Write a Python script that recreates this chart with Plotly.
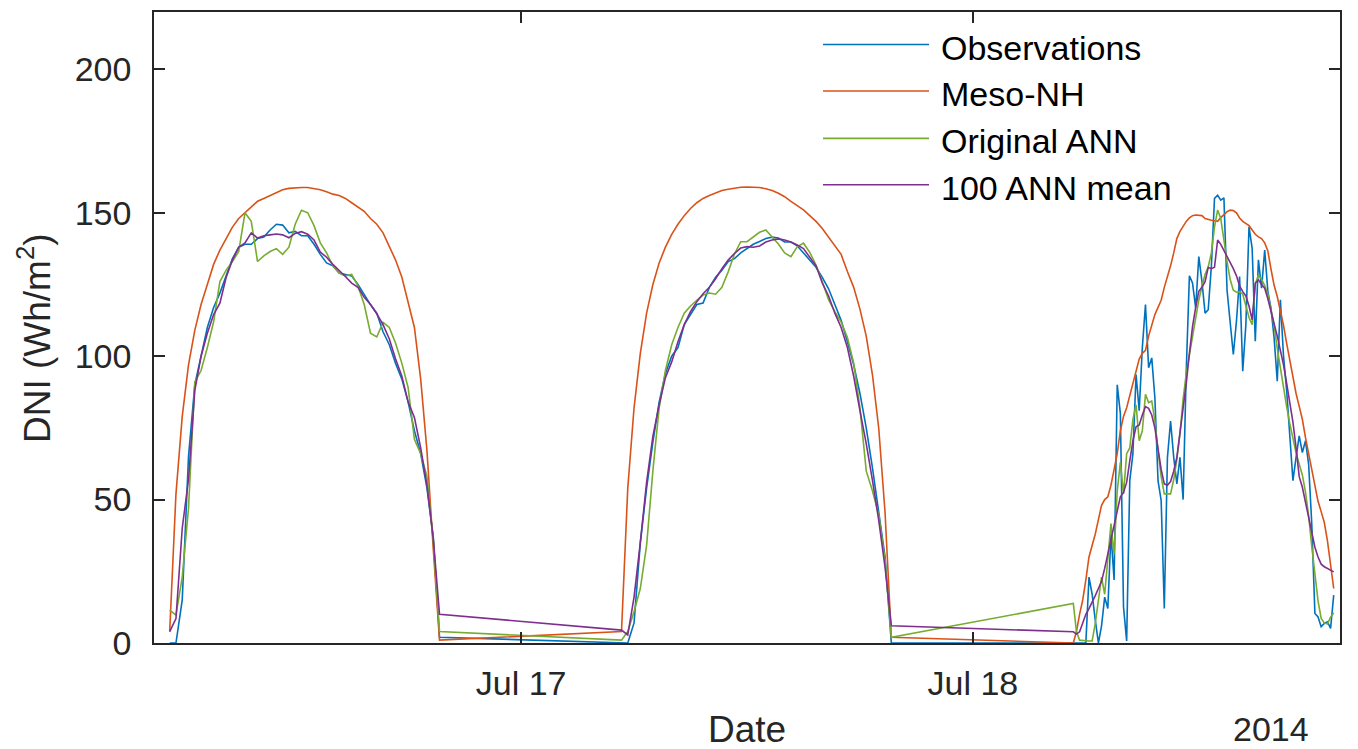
import pandas as pd
import plotly.graph_objects as go

# ---------------- data (DNI, Wh/m2) ----------------
day_starts = ["2014-07-16 05:20", "2014-07-17 05:20", "2014-07-18 05:20"]
day_steps = ["20min", "20min", "10min"]

obs_day1 = [0, 0, 15, 65, 90, 100, 110, 117, 122, 128, 134, 138, 139, 139, 141, 141.5, 144, 146, 145.7, 143,
            143.5, 142, 142, 139, 135.5, 132.5, 131.5, 129, 128.5, 128, 125, 121.5, 118, 115, 108.5, 104, 97.5,
            92, 84, 74, 66, 54, 37, 2]
obs_day2 = [0, 0, 7, 35, 54, 70, 84, 94, 100, 103, 111, 114.5, 118, 118.5, 124, 127.5, 130, 133, 134, 136,
            137.5, 139, 140, 141, 141.5, 141.2, 139.8, 139.8, 138.5, 136, 133.5, 131, 127.5, 123.5, 118, 112.5,
            105, 97, 87, 75, 61, 46, 30, 0]
obs_day3 = [0, 0, 0, 0, 0, 23, 17, 8, 0, 6, 16, 12, 38, 22, 90, 80, 12.6, 0.7, 56.6, 66, 93.6, 81, 103, 118,
            96, 99.4, 85.5, 56.6, 49.7, 12, 64.7, 77.4, 64.7, 55.5, 64.7, 50, 95, 128, 125.5, 116.8, 134.7, 126,
            115, 116.2, 131.3, 155, 156.1, 154.4, 155.2, 123, 112, 100.6, 112.2, 127.8, 94.8, 111, 145.1, 137.6,
            105.2, 133.6, 123.7, 137, 122.6, 116.8, 106.4, 91.3, 119.7, 100, 88, 72, 56.6, 64.7, 72.2, 66.4,
            70.5, 62.4, 41.6, 10.3, 9.1, 5.7, 6.8, 7.4, 5.1, 16.7]

meso_day1 = [4, 52, 79, 97, 109, 118, 125, 132, 137, 141, 145, 148, 150, 152, 154, 155, 156, 157.2, 158, 158.5,
             158.7, 158.8, 158.8, 158.5, 158, 157.3, 156.5, 156, 155, 153.5, 152, 150.5, 148, 146, 143, 138.5,
             133.5, 127.5, 119, 110, 92, 67, 33, 1]
meso_day2 = [4, 54, 82, 101, 115, 125, 132.5, 138, 142.5, 146, 149, 151.5, 153.5, 155, 156, 157, 157.8, 158.2,
             158.6, 158.9, 159, 159, 158.8, 158.4, 157.8, 156.8, 155.6, 154, 152.5, 151, 149, 147, 144.5, 141.5,
             138.5, 135.5, 129.5, 124, 116.4, 107, 93.4, 74.7, 45.5, 2]
meso_day3 = [0, 4, 10, 15, 22, 30, 34, 38, 43, 48, 50, 51, 55, 60, 66, 74, 79, 82, 86, 90, 95, 99, 101, 102,
             107, 111, 114.5, 117, 119.5, 124, 127.5, 131.5, 136, 141, 143.5, 145.5, 147, 148.2, 149, 149.2,
             149.2, 149, 148, 147.6, 147.4, 147.2, 147, 148.3, 149.5, 150.4, 150.9, 150.8, 150, 148.2, 147,
             146.2, 145.5, 144, 142.5, 141.6, 141, 139.5, 136.7, 130.4, 124.7, 120.8, 115.8, 110.7, 104.5, 98.5,
             92.8, 87, 82.5, 78, 71.6, 66, 60.7, 54.9, 49.4, 45.8, 42, 35.6, 27, 19]

ann_day1 = [11.5, 9.7, 23, 47, 91, 95, 103, 112, 126, 130, 133, 136.5, 150, 147, 133, 135, 136.5, 137.5, 135.5,
            138, 146, 150.9, 150, 145.5, 139.5, 136, 131.5, 129, 128, 128.5, 124.5, 118, 108, 106.7, 111.8, 110,
            104.5, 97.5, 89, 71, 66, 58, 35.5, 4]
ann_day2 = [1, 4, 11, 19, 34, 60, 82, 95, 104, 110, 115, 117.5, 119.5, 121.3, 122, 121.6, 124, 129.4, 135.6,
            139.9, 139.9, 141.6, 143.2, 144, 141.4, 139.1, 136, 134.7, 138.1, 139.4, 136.2, 131.8, 125.9, 119.7,
            115.5, 111.9, 106.5, 97.6, 82, 60, 53, 44.6, 28.9, 2]
ann_day3 = [13.8, 4, 1, 0.8, 0.8, 0.7, 0.7, 6.8, 15, 23, 17, 30, 41.6, 31, 53, 63, 52, 66, 68, 78, 83, 70.5,
            74, 86.7, 83.8, 84.4, 77.4, 67, 58, 52, 52, 52, 57, 64,
            73, 85, 94, 100.7, 107, 113.6, 119.6, 124.3, 128.6, 131.1, 136, 145, 151, 148, 140, 133, 126.7,
            123, 122.3, 122.5, 121.6, 117.8, 113.5, 111, 125, 128.3, 126.8, 124.6, 121.6, 116.3, 110.7, 102.7,
            95.5, 88.8, 82.4, 76.5, 70.7, 66.3, 62.3, 58.6, 52.6, 44.4, 33.7, 24.4, 14.7, 8.6, 7, 6.6, 9, 10.5]

mean_day1 = [4, 8.5, 40, 57, 88, 100, 108, 114.5, 118.5, 127.5, 133.5, 138, 139.5, 143, 141.2, 142, 142.3,
             142.6, 142.3, 141.3, 142.8, 143.4, 142.5, 140.5, 136.3, 134.5, 132, 130, 127.8, 125.5, 124, 120.5,
             118, 114.8, 111, 106, 99, 93, 84, 78.6, 68, 55, 36.5, 10]
mean_day2 = [4.5, 2.8, 16, 35, 56, 72, 83, 92.5, 98, 105, 111, 115.5, 119, 121.8, 124, 127, 130.5, 133.5, 135.8,
             137.7, 138.2, 138, 138.4, 139.8, 140.5, 140.9, 140.5, 139.8, 138.8, 137.5, 134.5, 131.5, 125.5, 121,
             115, 110, 103, 93, 81, 69.5, 56.6, 42.7, 26.4, 6]
mean_day3 = [3.9, 3.1, 3.9, 7, 10, 12, 14, 16.5, 19, 21.5, 26, 31, 36, 40.5, 45.7, 51, 52.5, 56, 63.5, 70.5,
             75.4, 76, 79.5, 82.4, 81.8, 79.5, 75, 67, 60.5, 55.5, 55, 56.3, 59.9, 64.7, 72.8, 82, 90.5, 101,
             110.3, 117, 122.6, 124, 126, 131, 130.5, 131, 140.5, 139, 137, 135, 132.5, 130.5, 128, 124.5, 122.5,
             121, 117.5, 112.7, 125.5, 126.6, 125, 123.7, 120, 116, 111.5, 107, 102, 97, 90.5, 84.4, 77, 68, 58,
             54.3, 49, 43, 38, 33.4, 30, 27.5, 26.6, 26, 25.3, 24.8]

series_names = ["Observations", "Meso-NH", "Original ANN", "100 ANN mean"]
series_colors = ["#0072BD", "#D95319", "#77AC30", "#7E2F8E"]
series_days = [
    [obs_day1, obs_day2, obs_day3],
    [meso_day1, meso_day2, meso_day3],
    [ann_day1, ann_day2, ann_day3],
    [mean_day1, mean_day2, mean_day3],
]

x_ticks = ["2014-07-17", "2014-07-18"]
x_tick_labels = ["Jul 17", "Jul 18"]
y_ticks = [0, 50, 100, 150, 200]

# ---------------- figure ----------------
AX = "#262626"
FONT = "Liberation Sans, Arial, Helvetica, sans-serif"

fig = go.Figure()
for name, color, days in zip(series_names, series_colors, series_days):
    xs, ys = [], []
    for i, vals in enumerate(days):
        xs += list(pd.date_range(day_starts[i], periods=len(vals), freq=day_steps[i]))
        ys += list(vals)
    fig.add_trace(go.Scatter(x=xs, y=ys, mode="lines", name=name, showlegend=False,
                             line=dict(color=color, width=1.6)))

axis_common = dict(showline=True, linecolor=AX, linewidth=1.6, mirror="ticks", ticks="inside",
                   ticklen=11, tickwidth=1.6, tickcolor=AX, showgrid=False, zeroline=False,
                   tickfont=dict(family=FONT, size=34, color=AX))

fig.update_xaxes(type="date", range=["2014-07-16 04:30", "2014-07-18 19:30"],
                 tickmode="array", tickvals=x_ticks, ticktext=x_tick_labels,
                 ticklabelstandoff=9, **axis_common)
fig.update_yaxes(range=[0, 220], tickmode="array", tickvals=y_ticks,
                 ticktext=[str(v) for v in y_ticks], ticklabelstandoff=14, **axis_common)

# manual legend (MATLAB style, no box)
leg_rows = [0.9484, 0.8747, 0.7998, 0.7262]
shapes = []
annotations = []
for name, color, yr in zip(series_names, series_colors, leg_rows):
    shapes.append(dict(type="line", xref="paper", yref="paper", x0=0.5641, x1=0.6535, y0=yr, y1=yr,
                       line=dict(color=color, width=1.6)))
    annotations.append(dict(xref="paper", yref="paper", x=0.6619, y=yr - 0.005, xanchor="left",
                            yanchor="middle", text=name, showarrow=False,
                            font=dict(family=FONT, size=34, color="black")))

annotations += [
    dict(xref="paper", yref="paper", x=0.5, y=-0.137, xanchor="center", yanchor="middle", text="Date",
         showarrow=False, font=dict(family=FONT, size=37, color=AX)),
    dict(xref="paper", yref="paper", x=0.9418, y=-0.137, xanchor="center", yanchor="middle", text="2014",
         showarrow=False, font=dict(family=FONT, size=34, color=AX)),
    dict(xref="paper", yref="paper", x=-0.1003, y=0.4834, xanchor="center", yanchor="middle",
         text="DNI (Wh/m<sup>2</sup>)", textangle=-90, showarrow=False,
         font=dict(family=FONT, size=37, color=AX)),
]

fig.update_layout(width=1358, height=749, autosize=False,
                  margin=dict(l=154, r=18, t=10, b=106, pad=0),
                  plot_bgcolor="white", paper_bgcolor="white",
                  shapes=shapes, annotations=annotations, showlegend=False)

fig.write_html("out.html", include_plotlyjs=True, full_html=True, config={"displayModeBar": False})
